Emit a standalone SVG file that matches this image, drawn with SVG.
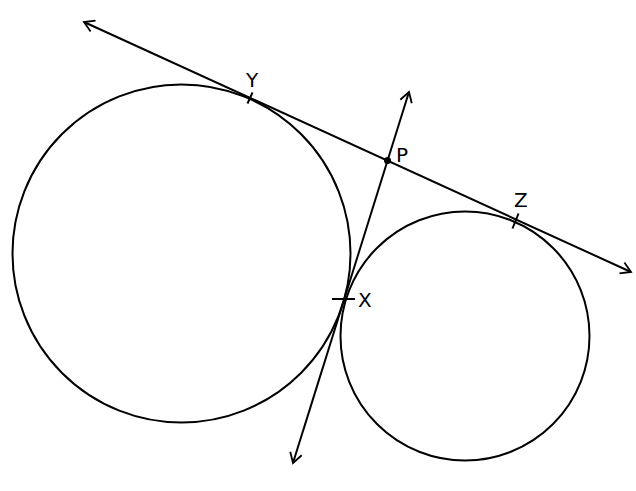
<svg xmlns="http://www.w3.org/2000/svg" width="636" height="491" viewBox="0 0 636 491">
<defs>
<marker id="arr" markerWidth="14" markerHeight="14" refX="12" refY="7" orient="auto-start-reverse" markerUnits="userSpaceOnUse">
<path d="M2,1 L12,7 L2,13" fill="none" stroke="#000" stroke-width="1.8"/>
</marker>
<style>
.c{fill:none;stroke:#000;stroke-width:2}
.l{fill:none;stroke:#000;stroke-width:2}
.t{font-family:"DejaVu Sans",sans-serif;font-size:20px;fill:#000}
</style>
</defs>
<rect width="636" height="491" fill="#fff"/>
<g id="circle-big"><circle class="c" cx="181.5" cy="253.5" r="169"/></g>
<g id="circle-small"><circle class="c" cx="465" cy="336" r="124.5"/></g>
<g id="connectors">
<line class="l" x1="84" y1="22" x2="631" y2="272" marker-start="url(#arr)" marker-end="url(#arr)"/>
<line class="l" x1="409" y1="92" x2="293" y2="463" marker-start="url(#arr)" marker-end="url(#arr)"/>
</g>
<g id="Y"><line class="l" x1="252.5" y1="92.5" x2="247.5" y2="103.5"/><text class="t" x="246" y="87">Y</text></g>
<g id="Z"><line class="l" x1="518.5" y1="213.5" x2="512.5" y2="228.5"/><text class="t" x="514" y="207">Z</text></g>
<g id="X"><line class="l" x1="332" y1="299" x2="355" y2="299"/><text class="t" x="358" y="307">X</text></g>
<g id="P"><circle cx="387.5" cy="160.5" r="3.5" fill="#000"/><text class="t" x="396" y="162">P</text></g>
</svg>
